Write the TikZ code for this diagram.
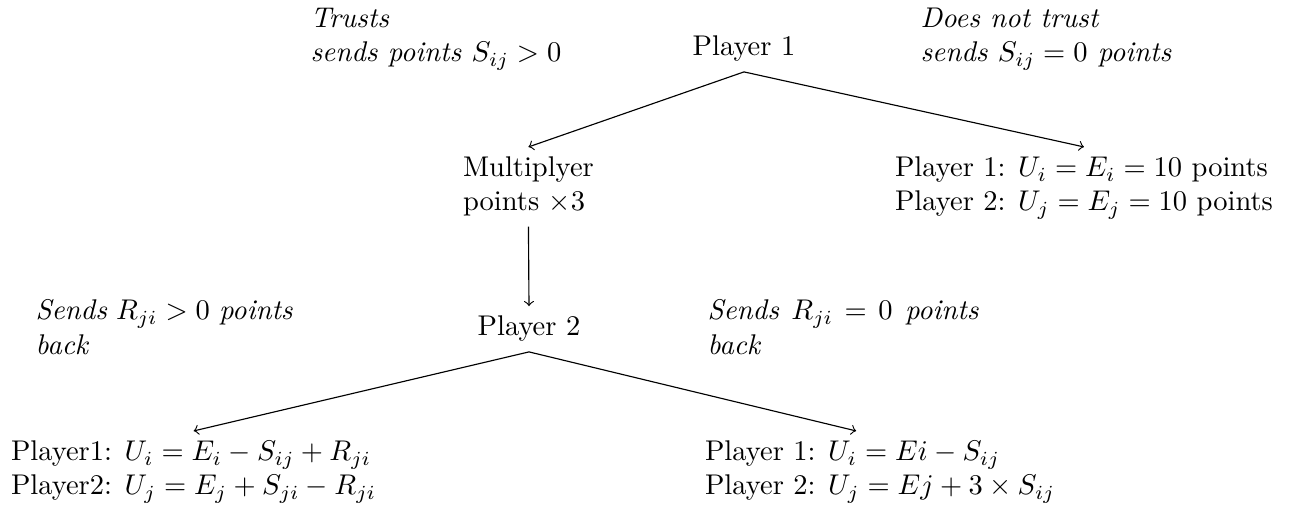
\documentclass[tikz,border=0pt]{standalone}
\begin{document}
\begin{tikzpicture}[x=0.3509pt, y=-0.3509pt,
  tnode/.style={anchor=base west, align=left},
  lbl/.style={anchor=base west, align=left, inner sep=0pt, font=\itshape},
  jlbl/.style={lbl, align=justify},
  arr/.style={->}]
\useasboundingbox (0,0) rectangle (1290,507);

% decision nodes and outcomes (multi-line nodes sit on their last baseline)
\node[anchor=base] (p1) at (744,56) {Player 1};
\node[tnode] (mult) at (453,211) {Multiplyer\\points $\times 3$};
\node[tnode] (keep) at (885,211) {Player 1: $U_i = E_i = 10$ points\\Player 2: $U_j = E_j = 10$ points};
\node[anchor=base] (p2) at (529,336) {Player 2};
\node[tnode] (back) at (1,495) {Player1: $U_i = E_i - S_{ij} + R_{ji}$\\Player2: $U_j = E_j + S_{ji} - R_{ji}$};
\node[tnode] (none) at (695,495) {Player 1: $U_i = Ei - S_{ij}$\\Player 2: $U_j = Ej + 3 \times S_{ij}$};

% branch labels
\node[lbl] (trust) at (310,62) {Trusts\\sends points $S_{ij} > 0$};
\node[lbl] (notrust) at (920,62) {Does not trust\\sends $S_{ij} = 0$ points};
\node[jlbl, text width=90.2pt] (sgt) at (35,320) {Sends $R_{ji} > 0$ points\linebreak back};
\node[jlbl, text width=95.1pt] (seq) at (707,320) {Sends $R_{ji} = 0$ points\linebreak back};

% connectors
\draw[arr] (p1.south) -- (mult.north);
\draw[arr] (p1.south) -- (keep.north);
\draw[arr] (mult.south) -- (p2.north);
\draw[arr] (p2.south) -- (back.north);
\draw[arr] (p2.south) -- ([xshift=-8.4pt]none.north);
\end{tikzpicture}
\end{document}
